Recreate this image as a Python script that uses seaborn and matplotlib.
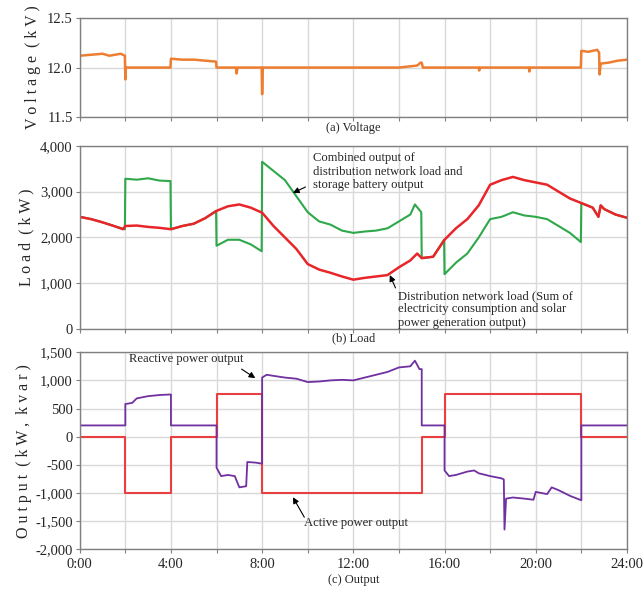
import numpy as np
import pandas as pd
import matplotlib
matplotlib.use('Agg')
import matplotlib.pyplot as plt
from matplotlib.ticker import FuncFormatter
import seaborn as sns

# ---- data (hours, values) ----
volt_t = [0, 0.5, 1.0, 1.3, 1.8, 1.98, 2.0, 2.02, 2.1, 3.0, 3.98, 4.0, 4.5, 5.0, 5.5, 5.98, 6.0,
          6.85, 6.88, 6.92, 7.98, 8.0, 8.03, 10.0, 12.0, 14.0, 14.8, 14.95, 15.0, 15.05, 16.0,
          17.5, 17.52, 17.55, 19.7, 19.72, 19.75, 21.98, 22.0, 22.3, 22.5, 22.7, 22.78, 22.8,
          22.85, 23.2, 23.6, 24.0]
volt_v = [12.12, 12.13, 12.14, 12.12, 12.14, 12.12, 11.88, 12.0, 12.0, 12.0, 12.0, 12.09, 12.08,
          12.08, 12.07, 12.06, 12.0, 12.0, 11.94, 12.0, 12.0, 11.73, 12.0, 12.0, 12.0, 12.0,
          12.02, 12.05, 12.05, 12.0, 12.0, 12.0, 11.97, 12.0, 12.0, 11.96, 12.0, 12.0, 12.17,
          12.16, 12.17, 12.18, 12.15, 11.93, 12.04, 12.05, 12.07, 12.08]

load_t = [0, 0.5, 1.0, 1.5, 1.9, 2.0, 2.5, 3.0, 3.5, 4.0, 4.5, 5.0, 5.5, 6.0, 6.5, 7.0, 7.5,
          8.0, 8.5, 9.0, 9.5, 10.0, 10.5, 11.0, 11.5, 12.0, 12.5, 13.0, 13.5, 14.0, 14.5,
          14.8, 15.0, 15.5, 16.0, 16.5, 17.0, 17.5, 18.0, 18.5, 19.0, 19.5, 20.0, 20.5,
          21.0, 21.5, 22.0, 22.5, 22.75, 22.85, 23.0, 23.5, 24.0]
load_v = [2450, 2400, 2330, 2250, 2180, 2250, 2260, 2230, 2210, 2180, 2250, 2300, 2420, 2580,
          2680, 2720, 2650, 2540, 2250, 2000, 1750, 1420, 1300, 1230, 1150, 1080, 1120, 1150,
          1180, 1350, 1500, 1650, 1550, 1580, 1950, 2200, 2400, 2700, 3150, 3250, 3320, 3250,
          3200, 3150, 3000, 2850, 2750, 2650, 2450, 2700, 2620, 2500, 2430]

comb_t = [0, 0.5, 1.0, 1.5, 1.98, 2.0, 2.5, 3.0, 3.5, 3.98, 4.0, 4.5, 5.0, 5.5, 5.98, 6.0, 6.5,
          7.0, 7.5, 7.98, 8.0, 8.5, 9.0, 9.5, 10.0, 10.5, 11.0, 11.5, 12.0, 12.5, 13.0, 13.5,
          14.0, 14.5, 14.7, 14.98, 15.0, 15.5, 15.98, 16.0, 16.5, 17.0, 17.5, 18.0, 18.5, 19.0,
          19.5, 20.0, 20.5, 21.0, 21.5, 21.98, 22.0, 22.5, 22.75, 22.85, 23.0, 23.5, 24.0]
comb_v = [2450, 2400, 2330, 2250, 2180, 3280, 3260, 3290, 3240, 3230, 2180, 2250, 2300, 2420,
          2580, 1820, 1950, 1950, 1850, 1700, 3650, 3450, 3250, 2900, 2550, 2350, 2280, 2150,
          2100, 2130, 2150, 2200, 2350, 2500, 2720, 2550, 1550, 1580, 1950, 1200, 1450, 1650,
          2000, 2400, 2450, 2550, 2480, 2450, 2400, 2250, 2100, 1900, 2750, 2650, 2450, 2700,
          2620, 2500, 2430]

act_t = [0, 2.0, 2.0, 4.0, 4.0, 6.0, 6.0, 8.0, 8.0, 15.0, 15.0, 16.0, 16.0, 22.0, 22.0, 24.0]
act_v = [0, 0, -1000, -1000, 0, 0, 750, 750, -1000, -1000, 0, 0, 750, 750, 0, 0]

react_t = [0, 2.0, 2.0, 2.3, 2.5, 3.0, 3.5, 4.0, 4.0, 6.0, 6.0, 6.2, 6.5, 6.8, 7.0, 7.3, 7.35,
           7.7, 8.0, 8.0, 8.2, 8.5, 9.0, 9.5, 10.0, 10.5, 11.0, 11.5, 12.0, 12.5, 13.0, 13.5,
           14.0, 14.5, 14.7, 14.9, 15.0, 15.0, 16.0, 16.0, 16.2, 16.5, 17.0, 17.3, 17.5, 18.0,
           18.5, 18.6, 18.63, 18.7, 19.0, 19.5, 19.9, 20.0, 20.5, 20.7, 21.0, 21.5, 22.0, 22.0,
           24.0]
react_v = [200, 200, 580, 600, 680, 720, 740, 750, 200, 200, -550, -700, -680, -700, -900, -880,
           -450, -460, -480, 1050, 1100, 1080, 1050, 1030, 970, 980, 1000, 1010, 1000, 1050,
           1100, 1150, 1230, 1250, 1350, 1200, 1200, 200, 200, -600, -700, -680, -620, -600,
           -650, -700, -740, -760, -1650, -1100, -1080, -1100, -1120, -980, -1020, -900, -950,
           -1050, -1130, 200, 200]

hour_labels = ['0:00', '', '4:00', '', '8:00', '', '12:00', '', '16:00', '', '20:00', '', '24:00']

sns.set_style('whitegrid')
plt.rcParams['font.family'] = ['Liberation Serif', 'DejaVu Serif']

fig = plt.figure(figsize=(6.43, 5.90), dpi=100)
left, width = 0.124, 0.851
ax1 = fig.add_axes([left, 0.802, width, 0.167])
ax2 = fig.add_axes([left, 0.442, width, 0.311])
ax3 = fig.add_axes([left, 0.069, width, 0.334])

grid_col = '#d9d9d9'
for ax in (ax1, ax2, ax3):
    ax.set_xlim(0, 24)
    ax.set_xticks(np.arange(0, 25, 2))
    ax.grid(True, color=grid_col, linewidth=1)
    for s in ax.spines.values():
        s.set_color('#808080')
        s.set_linewidth(1)
    ax.tick_params(axis='y', labelsize=10.5, pad=2, length=3, color='#808080', left=True)
    ax.tick_params(axis='x', labelsize=10.5, length=3, color='#808080', bottom=True)

arrow_kw = dict(arrowstyle='-|>', color='black', lw=0.8, shrinkA=0, shrinkB=0, mutation_scale=9)

# (a) voltage
sns.lineplot(x=volt_t, y=volt_v, ax=ax1, color='#ED7D31', linewidth=1.8, estimator=None, sort=False)
ax1.set_ylim(11.5, 12.5)
ax1.set_yticks([11.5, 12.0, 12.5])
ax1.yaxis.set_major_formatter(FuncFormatter(lambda v, p: f'{v:.1f}'))
ax1.set_xticklabels([])
ax1.set_ylabel('V o l t a g e  ( k V )', fontsize=11.5, labelpad=4)
ax1.set_xlabel('')
fig.text(0.55, 0.783, '(a) Voltage', ha='center', va='center', fontsize=9)

# (b) load
sns.lineplot(x=comb_t, y=comb_v, ax=ax2, color='#2EA84A', linewidth=1.5, estimator=None, sort=False)
sns.lineplot(x=load_t, y=load_v, ax=ax2, color='#E8262A', linewidth=1.8, estimator=None, sort=False)
ax2.set_ylim(0, 4000)
ax2.set_yticks(np.arange(0, 4001, 1000))
ax2.yaxis.set_major_formatter(FuncFormatter(lambda v, p: f'{v:,.0f}'))
ax2.set_xticklabels([])
ax2.set_ylabel('L o a d  ( k W )', fontsize=11.5, labelpad=4)
ax2.text(10.22, 3432, 'Combined output of\ndistribution network load and\nstorage battery output',
         fontsize=9.1, va='center', ha='left', linespacing=1.15)
ax2.annotate('', xy=(9.35, 2970), xytext=(9.9, 3100), arrowprops=arrow_kw)
ax2.text(13.98, 437, 'Distribution network load (Sum of\nelectricity consumption and solar\npower generation output)',
         fontsize=9.1, va='center', ha='left', linespacing=1.15)
ax2.annotate('', xy=(13.6, 1180), xytext=(13.85, 900), arrowprops=arrow_kw)
fig.text(0.55, 0.427, '(b) Load', ha='center', va='center', fontsize=9)

# (c) output
sns.lineplot(x=act_t, y=act_v, ax=ax3, color='#E84040', linewidth=1.5, estimator=None, sort=False)
sns.lineplot(x=react_t, y=react_v, ax=ax3, color='#7030A0', linewidth=1.3, estimator=None, sort=False)
ax3.set_ylim(-2000, 1500)
ax3.set_yticks(np.arange(-2000, 1501, 500))
ax3.yaxis.set_major_formatter(FuncFormatter(lambda v, p: f'{v:,.0f}'))
ax3.set_xticklabels(hour_labels)
ax3.set_ylabel('O u t p u t  ( k W ,  k v a r )', fontsize=11.5, labelpad=2)
ax3.text(2.15, 1376, 'Reactive power output', fontsize=9.1, va='center', ha='left')
ax3.annotate('', xy=(7.7, 1040), xytext=(7.1, 1200), arrowprops=arrow_kw)
ax3.text(9.83, -1537, 'Active power output', fontsize=9.1, va='center', ha='left')
ax3.annotate('', xy=(9.35, -1075), xytext=(9.85, -1430), arrowprops=arrow_kw)
fig.text(0.55, 0.017, '(c) Output', ha='center', va='center', fontsize=9)

fig.savefig('out.png', dpi=100)
